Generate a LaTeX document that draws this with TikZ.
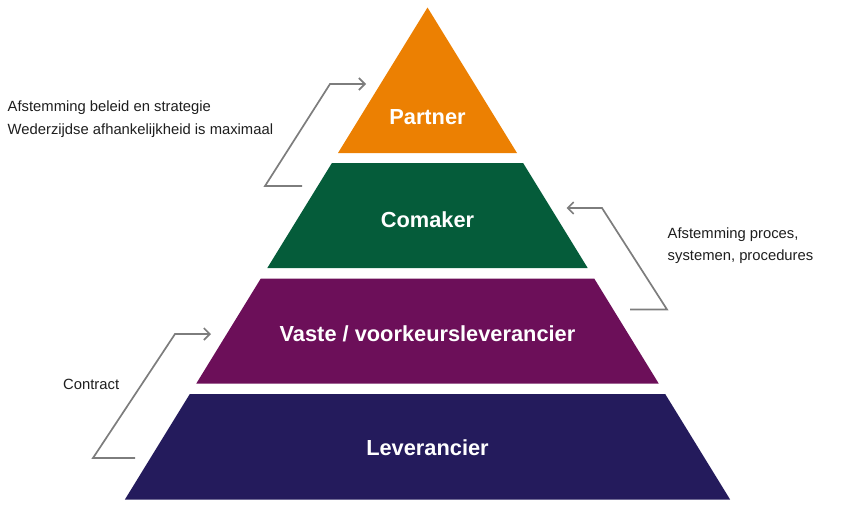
\documentclass[tikz,border=0pt]{standalone}
\usepackage{fontspec}
\setmainfont{Liberation Sans}
\usetikzlibrary{arrows.meta}
\definecolor{cpartner}{RGB}{236,128,2}
\definecolor{ccomaker}{RGB}{5,92,58}
\definecolor{cvaste}{RGB}{108,15,89}
\definecolor{clev}{RGB}{36,27,92}
\definecolor{carrow}{RGB}{125,125,125}
\definecolor{ctext}{RGB}{30,30,30}
\tikzset{
  layerlabel/.style={text=white,font=\fontsize{21.8}{25}\selectfont\bfseries,anchor=base,inner sep=0pt},
  note/.style={text=ctext,font=\fontsize{14.8}{23}\selectfont,anchor=base west,inner sep=0pt,align=left},
  elbowarrow/.style={draw=carrow,line width=1.7pt,-{Straight Barb[length=6pt,width=12pt,line width=1.6pt]}},
}
\begin{document}
\begin{tikzpicture}[x=1pt,y=-1pt]
\useasboundingbox (0,0) rectangle (845,512);
% pyramid layers
\fill[cpartner] (427.5,7.5) -- (517.0,153) -- (338.0,153) -- cycle;
\fill[ccomaker] (331.9,163) -- (523.1,163) -- (587.7,268) -- (267.3,268) -- cycle;
\fill[cvaste] (260.8,278.5) -- (594.2,278.5) -- (658.7,383.5) -- (196.3,383.5) -- cycle;
\fill[clev] (189.8,394) -- (665.2,394) -- (730.1,499.5) -- (124.9,499.5) -- cycle;
% layer labels
\node[layerlabel] (partner) at (427.5,124) {Partner};
\node[layerlabel] (comaker) at (427.5,227) {Comaker};
\node[layerlabel] (vaste) at (427.5,341.5) {Vaste / voorkeursleverancier};
\node[layerlabel] (lev) at (427.5,455.5) {Leverancier};
% notes
\node[note] (n1a) at (7.5,111) {Afstemming beleid en strategie};
\node[note] (n1b) at (7.5,134) {Wederzijdse afhankelijkheid is maximaal};
\node[note] (n2a) at (667.5,238.5) {Afstemming proces,};
\node[note] (n2b) at (667.5,260.5) {systemen, procedures};
\node[note] (n3) at (63,389) {Contract};
% connectors
\coordinate (a1s) at (302,186);
\coordinate (a1b) at (265,186);
\coordinate (a1t) at (330,84);
\coordinate (a1e) at (366,84);
\draw[elbowarrow] (a1s) -- (a1b) -- (a1t) -- (a1e);
\coordinate (a2s) at (630,309.5);
\coordinate (a2b) at (667,309.5);
\coordinate (a2t) at (602,208);
\coordinate (a2e) at (566.5,208);
\draw[elbowarrow] (a2s) -- (a2b) -- (a2t) -- (a2e);
\coordinate (a3s) at (135,458);
\coordinate (a3b) at (93,458);
\coordinate (a3t) at (175,334);
\coordinate (a3e) at (211,334);
\draw[elbowarrow] (a3s) -- (a3b) -- (a3t) -- (a3e);
\end{tikzpicture}
\end{document}
